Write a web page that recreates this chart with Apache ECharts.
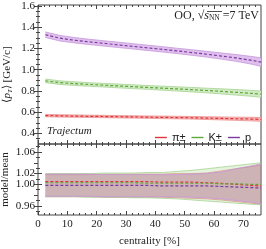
<!DOCTYPE html>
<html><head><meta charset="utf-8">
<script src="https://cdn.jsdelivr.net/npm/echarts@6/dist/echarts.min.js"></script>
<style>html,body{margin:0;padding:0;background:#fff}#c{width:266px;height:249px}</style>
</head><body><div id="c"></div>
<script>
// ---- data ----
const cent = [2.5, 7.5, 12.5, 17.5, 22.5, 27.5, 32.5, 37.5, 42.5, 47.5, 52.5, 57.5, 62.5, 67.5, 72.5, 76];
const piMean = [0.568, 0.565, 0.563, 0.561, 0.559, 0.557, 0.555, 0.553, 0.551, 0.549, 0.547, 0.544, 0.541, 0.538, 0.535, 0.532];
const kMean  = [0.895, 0.878, 0.869, 0.861, 0.854, 0.847, 0.840, 0.833, 0.826, 0.819, 0.812, 0.804, 0.796, 0.787, 0.778, 0.770];
const pMean  = [1.330, 1.297, 1.278, 1.262, 1.248, 1.234, 1.220, 1.206, 1.192, 1.177, 1.162, 1.146, 1.129, 1.111, 1.090, 1.072];
const piHalf = [0.011, 0.011, 0.011, 0.011, 0.011, 0.011, 0.011, 0.011, 0.012, 0.012, 0.012, 0.013, 0.014, 0.015, 0.017, 0.018];
const kHalf  = [0.017, 0.017, 0.017, 0.017, 0.017, 0.018, 0.018, 0.018, 0.019, 0.020, 0.021, 0.022, 0.024, 0.026, 0.028, 0.029];
const pHalf  = [0.026, 0.026, 0.025, 0.025, 0.025, 0.025, 0.025, 0.025, 0.025, 0.025, 0.026, 0.027, 0.029, 0.032, 0.036, 0.040];
// ratio panel
const piRatio = [1.005, 1.005, 1.005, 1.005, 1.005, 1.005, 1.005, 1.005, 1.004, 1.004, 1.004, 1.003, 1.002, 1.000, 0.998, 0.997];
const kRatio  = [1.003, 1.003, 1.003, 1.003, 1.003, 1.003, 1.003, 1.002, 1.002, 1.002, 1.002, 1.002, 1.001, 1.001, 1.000, 1.000];
const pRatio  = [0.998, 0.998, 0.998, 0.998, 0.998, 0.998, 0.998, 0.998, 0.997, 0.997, 0.997, 0.997, 0.996, 0.995, 0.994, 0.993];
const piLow  = [0.977, 0.977, 0.977, 0.977, 0.976, 0.976, 0.976, 0.976, 0.976, 0.975, 0.974, 0.973, 0.971, 0.968, 0.965, 0.963];
const piHigh = [1.018, 1.018, 1.018, 1.018, 1.019, 1.019, 1.019, 1.019, 1.019, 1.020, 1.020, 1.021, 1.025, 1.029, 1.033, 1.036];
const kLow   = [0.977, 0.977, 0.977, 0.976, 0.976, 0.976, 0.975, 0.975, 0.974, 0.973, 0.971, 0.969, 0.967, 0.965, 0.963, 0.962];
const kHigh  = [1.020, 1.020, 1.020, 1.020, 1.021, 1.021, 1.021, 1.022, 1.022, 1.024, 1.026, 1.029, 1.032, 1.035, 1.038, 1.040];
const pLow   = [0.978, 0.978, 0.978, 0.978, 0.977, 0.977, 0.977, 0.977, 0.977, 0.977, 0.976, 0.975, 0.973, 0.970, 0.967, 0.964];
const pHigh  = [1.019, 1.019, 1.019, 1.019, 1.018, 1.018, 1.018, 1.018, 1.018, 1.018, 1.019, 1.020, 1.023, 1.029, 1.034, 1.038];
// ticks
const xMajor = [0, 10, 20, 30, 40, 50, 60, 70];
const xMinor = [2, 4, 6, 8, 12, 14, 16, 18, 22, 24, 26, 28, 32, 34, 36, 38, 42, 44, 46, 48, 52, 54, 56, 58, 62, 64, 66, 68, 72, 74];
const yTopMajor = [0.4, 0.6, 0.8, 1.0, 1.2, 1.4, 1.6];
const yTopMinor = [0.35, 0.45, 0.5, 0.55, 0.65, 0.7, 0.75, 0.85, 0.9, 0.95, 1.05, 1.1, 1.15, 1.25, 1.3, 1.35, 1.45, 1.5, 1.55];
const yBotMajor = [0.96, 0.98, 1.00, 1.02, 1.04, 1.06];
const yBotMinor = [0.95, 0.97, 0.99, 1.01, 1.03, 1.05, 1.07];

const colors = {
  pi: {line: '#e0363a', band: '#f4b8b8', edge: '#ee9090', fill: 'rgba(230,110,110,0.30)'},
  k:  {line: '#5fa83a', band: '#d2eac5', edge: '#a6d492', fill: 'rgba(150,205,120,0.25)'},
  p:  {line: '#7b3aa0', band: '#dfc0ec', edge: '#c695dc', fill: 'rgba(160,100,165,0.28)'}
};
const SERIF = 'Liberation Serif';
const SANS = 'Liberation Sans';
const frame = '#444';

function pairs(xs, ys) { return xs.map((x, i) => [x, ys[i]]); }
function near(list, v) { return list.some(t => Math.abs(t - v) < 1e-6); }

function xAxes(grid, showLabels) {
  const common = {type: 'value', gridIndex: grid, min: 0, max: 76, splitLine: {show: false}, axisLine: {show: false}};
  return [
    Object.assign({}, common, {position: 'bottom',
      axisTick: {show: true, inside: true, length: 4, customValues: xMajor, lineStyle: {color: frame}},
      axisLabel: {show: showLabels, customValues: xMajor, margin: 4, color: '#222', fontFamily: SERIF, fontSize: 11,
        formatter: v => near(xMajor, v) ? String(v) : ''},
      name: showLabels ? 'centrality [%]' : '', nameLocation: 'middle', nameGap: 21, nameMoveOverlap: false,
      nameTextStyle: {fontFamily: SERIF, fontSize: 11, color: '#222'}}),
    Object.assign({}, common, {position: 'bottom',
      axisTick: {show: true, inside: true, length: 2, customValues: xMinor, lineStyle: {color: frame}},
      axisLabel: {show: false}}),
    Object.assign({}, common, {position: 'top',
      axisTick: {show: true, inside: true, length: 4, customValues: xMajor, lineStyle: {color: frame}},
      axisLabel: {show: false}}),
    Object.assign({}, common, {position: 'top',
      axisTick: {show: true, inside: true, length: 2, customValues: xMinor, lineStyle: {color: frame}},
      axisLabel: {show: false}})
  ];
}
function yAxes(grid, min, max, major, minor, digits, name, nameGap) {
  const common = {type: 'value', gridIndex: grid, min: min, max: max, splitLine: {show: false}, axisLine: {show: false}};
  return [
    Object.assign({}, common, {position: 'left',
      axisTick: {show: true, inside: true, length: 4, customValues: major, lineStyle: {color: frame}},
      axisLabel: {show: true, customValues: major, margin: 3, color: '#222', fontFamily: SERIF, fontSize: 11,
        showMinLabel: true, showMaxLabel: true, hideOverlap: false,
        formatter: v => near(major, v) ? v.toFixed(digits) : ''},
      name: name, nameLocation: 'middle', nameGap: nameGap, nameMoveOverlap: false,
      nameTextStyle: {fontFamily: SERIF, fontSize: 11, color: '#222',
        rich: {i: {fontFamily: SERIF, fontStyle: 'italic', fontSize: 11, color: '#222'},
               sub: {fontFamily: SERIF, fontStyle: 'italic', fontSize: 7, color: '#222', verticalAlign: 'bottom', padding: [6, 0, 0, 0]}}}}),
    Object.assign({}, common, {position: 'left',
      axisTick: {show: true, inside: true, length: 2, customValues: minor, lineStyle: {color: frame}},
      axisLabel: {show: false}}),
    Object.assign({}, common, {position: 'right',
      axisTick: {show: true, inside: true, length: 4, customValues: major, lineStyle: {color: frame}},
      axisLabel: {show: false}}),
    Object.assign({}, common, {position: 'right',
      axisTick: {show: true, inside: true, length: 2, customValues: minor, lineStyle: {color: frame}},
      axisLabel: {show: false}})
  ];
}

// band drawn as polygon through the axis scale (api.coord)
function band(name, xi, yi, low, high, fill, edge) {
  return {
    type: 'custom', name: name, xAxisIndex: xi, yAxisIndex: yi, silent: true, z: 1, clip: true,
    data: [[cent[0], low[0]]],
    renderItem: function (params, api) {
      const top = cent.map((x, i) => api.coord([x, high[i]]));
      const bot = cent.map((x, i) => api.coord([x, low[i]])).reverse();
      return {type: 'group', children: [
        {type: 'polygon', shape: {points: top.concat(bot)}, style: {fill: fill, stroke: null}},
        {type: 'polyline', shape: {points: top}, style: {stroke: edge, lineWidth: 0.8, fill: null}},
        {type: 'polyline', shape: {points: bot}, style: {stroke: edge, lineWidth: 0.8, fill: null}}
      ]};
    }
  };
}
function mid(name, xi, yi, vals, color) {
  return {type: 'line', name: name, xAxisIndex: xi, yAxisIndex: yi, symbol: 'none', data: pairs(cent, vals),
    lineStyle: {color: color, width: 1.2, type: [3, 2]}, itemStyle: {color: color}, z: 3};
}

const series = [];
[['π±', piMean, piHalf, colors.pi], ['K±', kMean, kHalf, colors.k], ['p', pMean, pHalf, colors.p]].forEach(([n, m, h, c], k) => {
  series.push(band('u' + k, 0, 0, m.map((v, i) => v - h[i]), m.map((v, i) => v + h[i]), c.band, c.edge));
  series.push(mid(n, 0, 0, m, c.line));
});
[['πr', piLow, piHigh, colors.pi], ['Kr', kLow, kHigh, colors.k], ['pr', pLow, pHigh, colors.p]].forEach(([n, lo, hi, c]) => {
  series.push(band(n, 4, 4, lo, hi, c.fill, c.edge));
});
[['π± r', piRatio, colors.pi], ['K± r', kRatio, colors.k], ['p r', pRatio, colors.p]].forEach(([n, r, c]) => {
  series.push(mid(n, 4, 4, r, c.line));
});

const option = {
  animation: false,
  grid: [
    {left: 38, right: 5, top: 5, height: 139, show: true, borderColor: frame, borderWidth: 1, backgroundColor: 'transparent', outerBoundsMode: 'none', containLabel: false},
    {left: 38, right: 5, top: 144, height: 71, show: true, borderColor: frame, borderWidth: 1, backgroundColor: 'transparent', outerBoundsMode: 'none', containLabel: false}
  ],
  xAxis: [...xAxes(0, false), ...xAxes(1, true)],
  yAxis: [
    ...yAxes(0, 0.3, 1.61, yTopMajor, yTopMinor, 1, '{a|⟨}{i|p}{sub|T}{a|⟩ [GeV/c]}', 24),
    ...yAxes(1, 0.943, 1.075, yBotMajor, yBotMinor, 2, 'model/mean', 27)
  ],
  legend: {
    data: ['π±', 'K±', 'p'], right: 10, top: 127, itemWidth: 12, itemHeight: 1.4, itemGap: 6,
    icon: 'rect',
    textStyle: {fontFamily: SANS, fontSize: 11, color: '#222', padding: [0, 0, 0, 0]}
  },
  graphic: [
    {type: 'text', left: 47, top: 126, z: 10, style: {text: 'Trajectum', fontFamily: SERIF, fontStyle: 'italic', fontSize: 11, fill: '#222'}},
    {type: 'text', right: 7, top: 10, z: 10, style: {
      text: 'OO, √{i|s}{sub|NN} =7 TeV', fontFamily: SERIF, fontSize: 12, fill: '#222',
      rich: {i: {fontFamily: SERIF, fontStyle: 'italic', fontSize: 12, fill: '#222'},
             sub: {fontFamily: SERIF, fontSize: 7.5, fill: '#222', padding: [5, 0, 0, 0]}}}},
    {type: 'line', z: 10, shape: {x1: 207, y1: 11.5, x2: 222, y2: 11.5}, style: {stroke: '#222', lineWidth: 0.8}}
  ],
  series: series
};
const chart = echarts.init(document.getElementById('c'), null, {renderer: 'canvas'});
chart.setOption(option);
</script></body></html>
